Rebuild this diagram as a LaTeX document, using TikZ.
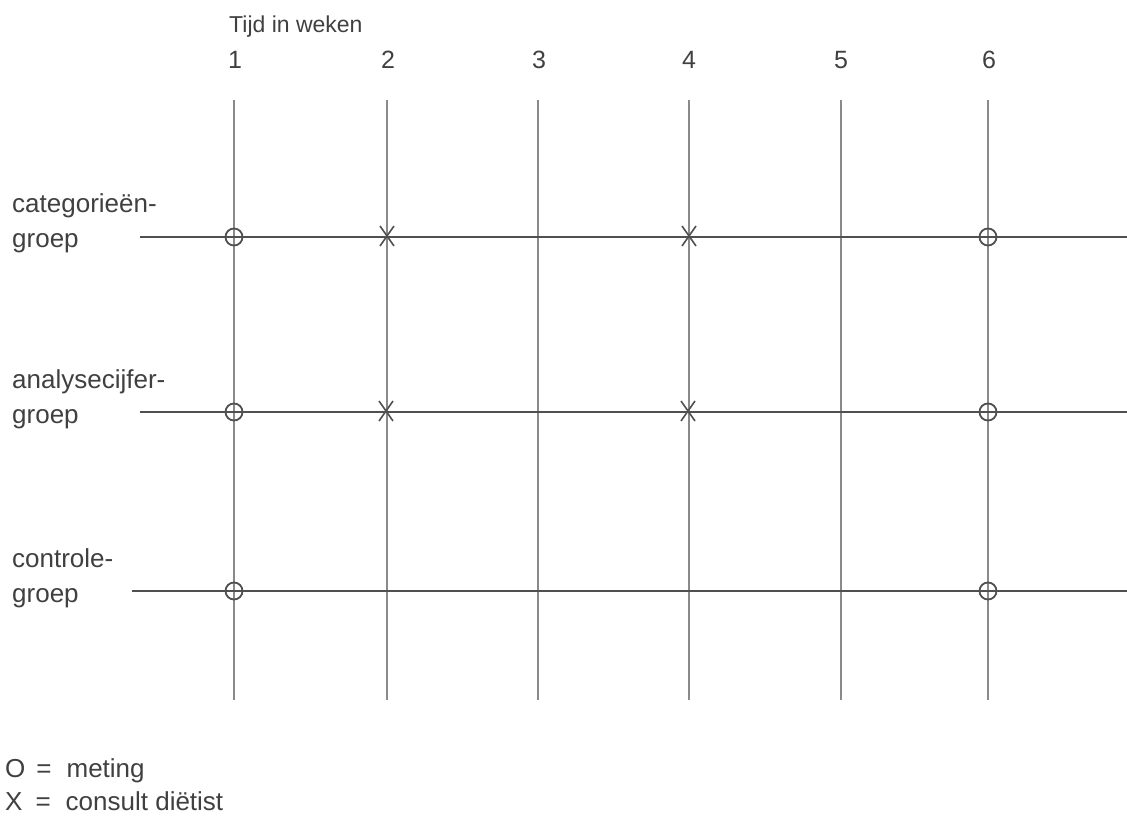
\documentclass[tikz,border=0pt]{standalone}
\usepackage{fontspec}
\setmainfont{Liberation Sans}
\definecolor{txt}{HTML}{404040}
\definecolor{hline}{HTML}{505050}
\definecolor{vline}{HTML}{8A8A8A}
\begin{document}
\begin{tikzpicture}[x=1pt,y=-1pt,
  lbl/.style={font=\fontsize{26}{30}\selectfont, text=txt, inner sep=0pt},
  top/.style={font=\fontsize{23}{27}\selectfont, text=txt, inner sep=0pt},
  num/.style={font=\fontsize{25}{29}\selectfont, text=txt, inner sep=0pt},
  vl/.style={draw=vline, line width=1.3pt},
  hl/.style={draw=hline, line width=1.6pt},
  meas/.style={circle, draw=hline, line width=1.8pt, minimum size=17pt, inner sep=0pt},
  cons/.style={draw=hline, line width=1.6pt}]
\useasboundingbox (0,0) rectangle (1127,816);
% time axis labels
\node[top, anchor=base west] (tijd) at (229,33) {Tijd in weken};
\foreach \n/\x in {1/235,2/388,3/539,4/689,5/841,6/989}{
  \node[num, anchor=base] (w\n) at (\x,68) {\n};
}
\foreach \n/\x in {1/234,2/387,3/538,4/689,5/841,6/988}{
  \coordinate (t\n) at (\x,100);
  \coordinate (b\n) at (\x,700);
  \draw[vl] (t\n) -- (b\n);
}
% group rows
\coordinate (r1s) at (140,237); \coordinate (r1e) at (1127,237);
\coordinate (r2s) at (140,412); \coordinate (r2e) at (1127,412);
\coordinate (r3s) at (132,591); \coordinate (r3e) at (1127,591);
\draw[hl] (r1s) -- (r1e);
\draw[hl] (r2s) -- (r2e);
\draw[hl] (r3s) -- (r3e);
\node[lbl, anchor=base west] (g1a) at (12,212) {categorieën-};
\node[lbl, anchor=base west] (g1b) at (12,247) {groep};
\node[lbl, anchor=base west] (g2a) at (12,388) {analysecijfer-};
\node[lbl, anchor=base west] (g2b) at (12,423) {groep};
\node[lbl, anchor=base west] (g3a) at (12,567) {controle-};
\node[lbl, anchor=base west] (g3b) at (12,602) {groep};
% measurements
\node[meas] (m11) at (234,237) {};
\node[meas] (m16) at (988,237) {};
\node[meas] (m21) at (234,412) {};
\node[meas] (m26) at (988,412) {};
\node[meas] (m31) at (234,591) {};
\node[meas] (m36) at (988,591) {};
% consults
\foreach \x/\y in {387/236,689/236,386/411,688/411}{
  \draw[cons] (\x-7,\y-10) -- (\x+7,\y+10);
  \draw[cons] (\x+7,\y-10) -- (\x-7,\y+10);
}
% legend
\node[lbl, anchor=base west] (leg1) at (5,777) {O\hspace{11pt}=\hspace{15pt}meting};
\node[lbl, anchor=base west] (leg2) at (5,810) {X\hspace{13pt}=\hspace{15pt}consult diëtist};
\end{tikzpicture}
\end{document}
